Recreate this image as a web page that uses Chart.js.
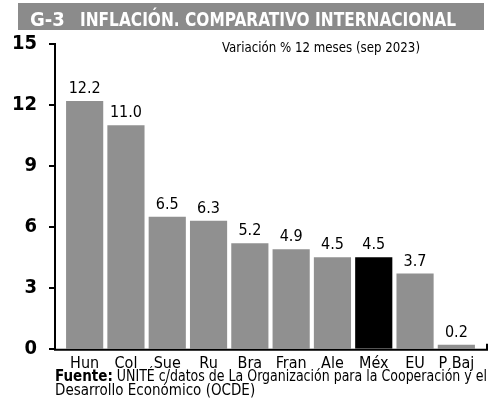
<!DOCTYPE html>
<html>
<head>
<meta charset="utf-8">
<script src="https://cdn.jsdelivr.net/npm/chart.js@4.4.0/dist/chart.umd.min.js"></script>
<style>
  html, body { margin: 0; padding: 0; background: #fff; }
  #wrap { position: relative; width: 500px; height: 399px; }
</style>
</head>
<body>
<div id="wrap"><canvas id="chart" width="500" height="399"></canvas></div>
<script>
const countries = ['Hun', 'Col', 'Sue', 'Ru', 'Bra', 'Fran', 'Ale', 'Méx', 'EU', 'P Baj']
const inflation = [12.2, 11.0, 6.5, 6.3, 5.2, 4.9, 4.5, 4.5, 3.7, 0.2]
const yTicks = [0, 3, 6, 9, 12, 15]

const titleCode = 'G-3'
const titleText = 'INFLACIÓN. COMPARATIVO INTERNACIONAL'
const subtitle = 'Variación % 12 meses (sep 2023)'
const sourceBold = 'Fuente:'
const sourceLine1 = ' UNITÉ c/datos de La Organización para la Cooperación y el'
const sourceLine2 = 'Desarrollo Económico (OCDE)'

const narrow = '"Liberation Sans Narrow", "DejaVu Sans Condensed", sans-serif'
const gray = '#909090'
const barColors = countries.map(c => c === 'Méx' ? '#000000' : gray)

// draw text squeezed to a target width if it is wider
function fitText(ctx, text, x, y, maxW) {
  const w = ctx.measureText(text).width
  if (w > maxW) {
    ctx.save()
    ctx.translate(x, y)
    ctx.scale(maxW / w, 1)
    ctx.fillText(text, 0, 0)
    ctx.restore()
    return maxW
  }
  ctx.fillText(text, x, y)
  return w
}

const decorations = {
  id: 'decorations',
  afterDraw(chart) {
    const ctx = chart.ctx
    const area = chart.chartArea
    const y = chart.scales.y
    const x0 = area.left - 9
    const yTop = y.getPixelForValue(15)
    const yBot = y.getPixelForValue(0) + 1

    ctx.save()
    // title bar
    ctx.fillStyle = '#8b8b8b'
    ctx.fillRect(18, 3, 466, 27)
    ctx.fillStyle = '#fff'
    ctx.textBaseline = 'alphabetic'
    ctx.textAlign = 'left'
    ctx.font = 'bold 20px ' + narrow
    fitText(ctx, titleCode, 30, 26, 38)
    fitText(ctx, titleText, 80, 26, 376)

    // subtitle
    ctx.fillStyle = '#000'
    ctx.font = '13.5px ' + narrow
    fitText(ctx, subtitle, 222, 52, 198)

    // axes
    ctx.strokeStyle = '#000'
    ctx.lineWidth = 2
    ctx.beginPath()
    ctx.moveTo(x0, yTop - 1)
    ctx.lineTo(x0, yBot)
    ctx.lineTo(area.right + 10, yBot)
    ctx.lineTo(area.right + 10, yBot - 6)
    ctx.stroke()
    yTicks.forEach(v => {
      const py = Math.round(y.getPixelForValue(v))
      ctx.beginPath()
      ctx.moveTo(x0 - 6, py)
      ctx.lineTo(x0, py)
      ctx.stroke()
    })

    // value labels
    const meta = chart.getDatasetMeta(0)
    ctx.font = '16px ' + narrow
    ctx.textAlign = 'center'
    ctx.textBaseline = 'alphabetic'
    meta.data.forEach((bar, i) => {
      ctx.fillText(inflation[i].toFixed(1), bar.x, bar.y - 8)
    })

    // source
    ctx.textAlign = 'left'
    ctx.font = 'bold 15px ' + narrow
    const bw = fitText(ctx, sourceBold, 55, 381, 60)
    ctx.font = '15px ' + narrow
    fitText(ctx, sourceLine1, 55 + bw, 381, 432 - bw)
    fitText(ctx, sourceLine2, 55, 395, 220)
    ctx.restore()
  }
}

new Chart(document.getElementById('chart'), {
  type: 'bar',
  data: {
    labels: countries,
    datasets: [{
      data: inflation,
      backgroundColor: barColors,
      barPercentage: 0.9,
      categoryPercentage: 1
    }]
  },
  options: {
    responsive: false,
    animation: false,
    events: [],
    layout: { padding: { top: 44, right: 23, bottom: 21, left: 0 } },
    plugins: {
      legend: { display: false },
      tooltip: { enabled: false }
    },
    scales: {
      x: {
        grid: { display: false, drawTicks: false },
        border: { display: false },
        ticks: {
          color: '#000',
          padding: 5,
          autoSkip: false,
          maxRotation: 0,
          minRotation: 0,
          font: { family: narrow, size: 16 }
        }
      },
      y: {
        min: 0,
        max: 15,
        afterFit(scale) { scale.width = 64 },
        afterBuildTicks(scale) { scale.ticks = yTicks.map(v => ({ value: v })) },
        grid: { display: false },
        border: { display: false },
        ticks: {
          color: '#000',
          padding: 19,
          font: { family: narrow, size: 20, weight: 'bold' }
        }
      }
    }
  },
  plugins: [decorations]
})
</script>
</body>
</html>
